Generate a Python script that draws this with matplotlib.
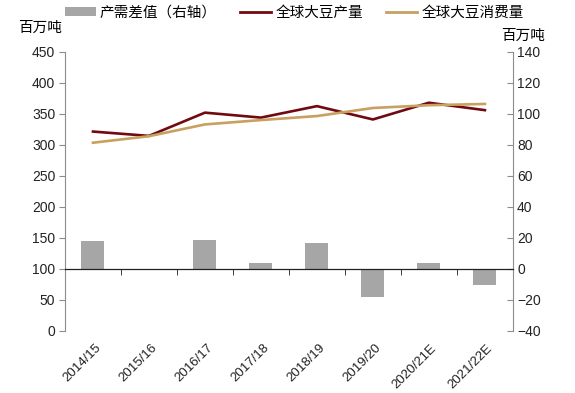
import matplotlib
matplotlib.use("Agg")
import matplotlib.pyplot as plt
import matplotlib.transforms as mtransforms
from matplotlib.lines import Line2D
from matplotlib.patches import Patch
from matplotlib.font_manager import FontProperties
import numpy as np

plt.rcParams['font.family'] = ['Liberation Sans', 'Noto Sans CJK SC', 'DejaVu Sans']

categories = ['2014/15', '2015/16', '2016/17', '2017/18', '2018/19', '2019/20', '2020/21E', '2021/22E']
production = [321.5, 314.5, 352.0, 344.0, 362.5, 341.0, 368.0, 356.0]
consumption = [303.5, 314.0, 333.0, 340.0, 346.5, 359.5, 364.0, 366.0]
gap = [17.8, 0.1, 18.6, 3.9, 16.5, -18.3, 3.9, -10.3]

legend_labels = ['产需差值（右轴）', '全球大豆产量', '全球大豆消费量']
unit_label = '百万吨'

c_prod = '#700A10'
c_cons = '#C8A060'
c_bar = '#A6A6A6'
c_axis = '#8C8C8C'

fig = plt.figure(figsize=(5.75, 3.93), dpi=100)
ax = fig.add_axes([0.113, 0.158, 0.779, 0.71])
ax2 = ax.twinx()

x = np.arange(len(categories))
ax2.bar(x, gap, width=0.41, color=c_bar, zorder=1)
ax.plot(x, production, color=c_prod, lw=1.9, zorder=3)
ax.plot(x, consumption, color=c_cons, lw=1.9, zorder=3)

ax.set_zorder(ax2.get_zorder() + 1)
ax.patch.set_visible(False)

ax.set_xlim(-0.5, len(categories) - 0.5)
ax.set_ylim(0, 450)
ax.set_yticks(np.arange(0, 451, 50))
ax2.set_ylim(-40, 140)
ax2.set_yticks(np.arange(-40, 141, 20))
ax2.set_yticklabels([str(v).replace('-', '\u2212') for v in range(-40, 141, 20)])

for a in (ax, ax2):
    a.spines['top'].set_visible(False)
ax.spines['right'].set_visible(False)
ax2.spines['left'].set_visible(False)
ax2.spines['bottom'].set_visible(False)
ax.spines['left'].set_color(c_axis)
ax2.spines['right'].set_color(c_axis)

ax.spines['bottom'].set_position(('data', 100))
ax.spines['bottom'].set_color('#202020')
ax.spines['bottom'].set_linewidth(0.9)

ax.tick_params(axis='y', direction='out', length=4, color=c_axis, labelsize=10, labelcolor='#222222', pad=3)
ax2.tick_params(axis='y', direction='in', length=4, color=c_axis, labelsize=10, labelcolor='#222222', pad=3)

ax.set_xticks(x)
ax.set_xticklabels([])
ax.tick_params(axis='x', which='major', length=0)
ax.set_xticks(np.arange(0.5, len(categories) - 0.5, 1), minor=True)
ax.tick_params(axis='x', which='minor', direction='out', length=4, color='#202020')

trans = mtransforms.blended_transform_factory(ax.transData, ax.transAxes)
for i, lab in enumerate(categories):
    ax.text(i + 0.03, -0.04, lab, transform=trans, rotation=45, ha='right', va='top',
            rotation_mode='anchor', fontsize=9.5, color='#222222')

fig.text(0.032, 0.93, unit_label, fontsize=10.5, ha='left', va='center', fontweight='medium')
fig.text(0.948, 0.91, unit_label, fontsize=10.5, ha='right', va='center', fontweight='medium')

handles = [Patch(facecolor=c_bar, edgecolor='none'),
           Line2D([0], [0], color=c_prod, lw=2),
           Line2D([0], [0], color=c_cons, lw=2)]
fig.legend(handles, legend_labels, loc='center left', bbox_to_anchor=(0.113, 0.968), ncol=3,
           frameon=False, prop=FontProperties(family=['Noto Sans CJK SC'], size=10.5, weight='medium'),
           handlelength=2.1, handleheight=0.5, borderpad=0, borderaxespad=0,
           columnspacing=1.6, handletextpad=0.3)

fig.savefig('out.png', dpi=100)
